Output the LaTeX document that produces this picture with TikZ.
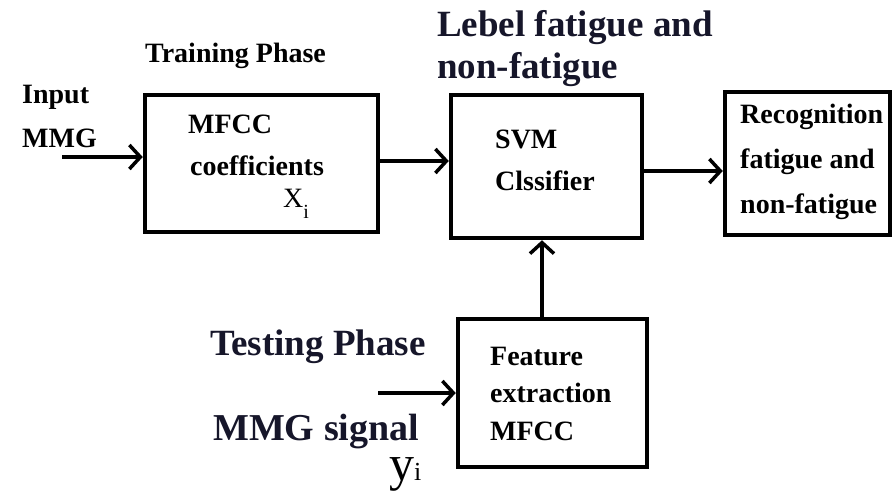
\documentclass[tikz,border=0pt]{standalone}
\usepackage{fontspec}
\setmainfont{Liberation Serif}[BoldFont={Liberation Serif Bold}, ItalicFont={Liberation Serif Italic}]
\newfontfamily\tmb{Liberation Serif Bold}
\usetikzlibrary{arrows.meta}
\definecolor{navytext}{HTML}{16162A}
\tikzset{
  blk/.style={draw=black, line width=4.5pt, inner sep=0pt},
  arr/.style={line width=4pt, -{Straight Barb[length=11pt,width=24pt,line width=3.5pt]}},
  lbl/.style={anchor=base west, inner sep=0pt, font=\tmb\fontsize{28}{30}\selectfont},
  big/.style={anchor=base west, inner sep=0pt, text=navytext, font=\tmb\fontsize{37}{40}\selectfont},
}
\begin{document}
\begin{tikzpicture}[x=1pt,y=-1pt]
\useasboundingbox[fill=white] (0,0) rectangle (894,493);
% boxes
\node[blk, minimum width=233pt, minimum height=137pt] (b1) at (261.5,163.5) {};
\node[blk, minimum width=191pt, minimum height=143pt] (svm) at (546.5,166.5) {};
\node[blk, minimum width=165pt, minimum height=143pt] (rec) at (807.5,163.5) {};
\node[blk, minimum width=189pt, minimum height=148pt] (feat) at (552.5,393) {};
% texts
\node[lbl] (tr) at (145,62) {Training Phase};
\node[lbl] (in1) at (22,103) {Input};
\node[lbl] (in2) at (22,147) {MMG};
\node[lbl] (b1a) at (188,133) {MFCC};
\node[lbl] (b1b) at (190,175) {coefficients};
\node[anchor=base west, inner sep=0pt, font=\fontsize{28}{30}\selectfont] (xi) at (283,207) {X\raisebox{-11pt}{\fontsize{20}{20}\selectfont i}};
\node[big] (lb1) at (437,36) {Lebel fatigue and};
\node[big] (lb2) at (437,78) {non-fatigue};
\node[lbl] (sv1) at (495,148) {SVM};
\node[lbl] (sv2) at (495,190) {Clssifier};
\node[lbl] (r1) at (740,123) {Recognition};
\node[lbl] (r2) at (740,168) {fatigue and};
\node[lbl] (r3) at (740,213) {non-fatigue};
\node[big] (tp) at (210,355) {Testing Phase};
\node[big, font=\tmb\fontsize{38}{40}\selectfont] (ms) at (213,440) {MMG signal};
\node[lbl] (f1) at (490,365) {Feature};
\node[lbl] (f2) at (490,402) {extraction};
\node[lbl] (f3) at (490,440) {MFCC};
\node[anchor=base west, inner sep=0pt, text height=25pt, font=\fontsize{50}{52}\selectfont] (yi) at (389,480) {y\fontsize{26}{28}\selectfont i};
% connectors
\coordinate (inp) at (62,157);
\coordinate (tin) at (378,393);
\draw[arr] (inp) -- (inp -| b1.west);
\draw[arr] ([yshift=2.5pt]b1.east) -- ([yshift=2.5pt]b1.east -| svm.west);
\draw[arr] ([yshift=-4.5pt]svm.east) -- ([yshift=-4.5pt]svm.east -| rec.west);
\draw[arr] ([xshift=-10.5pt]feat.north) -- ([xshift=-10.5pt]feat.north |- svm.south);
\draw[arr] (tin) -- (tin -| feat.west);
\end{tikzpicture}
\end{document}
